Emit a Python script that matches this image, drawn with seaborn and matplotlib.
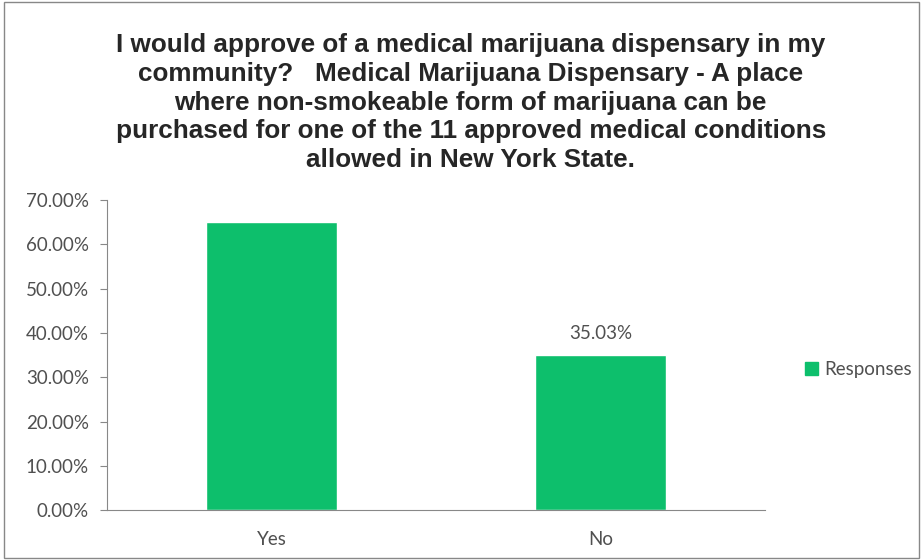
import matplotlib
matplotlib.use("Agg")
import matplotlib.pyplot as plt
import matplotlib.patches as mpatches
import seaborn as sns
import pandas as pd
from matplotlib.ticker import FuncFormatter

categories = ['Yes', 'No']
values = [64.97, 35.03]
series_name = 'Responses'
title = ('I would approve of a medical marijuana dispensary in my\n'
         'community?   Medical Marijuana Dispensary - A place\n'
         'where non-smokeable form of marijuana can be\n'
         'purchased for one of the 11 approved medical conditions\n'
         'allowed in New York State.')

sns.set_style('white')
plt.rcParams['font.family'] = ['Lato', 'DejaVu Sans']

df = pd.DataFrame({'answer': categories, 'pct': values, 'series': series_name})

fig = plt.figure(figsize=(9.23, 5.6), dpi=100)
ax = fig.add_axes([0.116, 0.089, 0.713, 0.554])
green = '#0DBF6C'
sns.barplot(data=df, x='answer', y='pct', hue='series', palette=[green],
            width=0.4, saturation=1, ax=ax, legend=False)

ax.set_ylim(0, 70)
ax.set_yticks(range(0, 71, 10))
ax.yaxis.set_major_formatter(FuncFormatter(lambda v, p: f'{v:.2f}%'))
ax.set_xlabel('')
ax.set_ylabel('')
for s in ['top', 'right']:
    ax.spines[s].set_visible(False)
for s in ['left', 'bottom']:
    ax.spines[s].set_color('#888888')
    ax.spines[s].set_linewidth(0.8)
ax.tick_params(axis='y', direction='out', length=5, color='#888888',
               labelsize=13.5, labelcolor='#505050', left=True, pad=8)
ax.tick_params(axis='x', length=0, labelsize=13.5, labelcolor='#505050', pad=15)

# data label only on the "No" bar, as in the reference
bar = ax.patches[1]
ax.text(bar.get_x() + bar.get_width() / 2, values[1] + 3, f'{values[1]:.2f}%',
        ha='center', va='bottom', fontsize=13.5, color='#505050')

fig.text(0.51, 0.941, title, ha='center', va='top', fontsize=18.8,
         fontweight='bold', family='Liberation Sans', linespacing=1.25)

handle = mpatches.Patch(color=green, label=series_name)
fig.legend(handles=[handle], loc='center left', bbox_to_anchor=(0.862, 0.34),
           frameon=False, fontsize=13.5, handlelength=0.7, handleheight=0.7,
           handletextpad=0.3, borderpad=0, labelcolor='#505050')

fig.patches.append(mpatches.Rectangle((0.004, 0.004), 0.992, 0.992,
                                      transform=fig.transFigure, fill=False,
                                      edgecolor='#888888', linewidth=1))

fig.savefig('out.png', dpi=100)
